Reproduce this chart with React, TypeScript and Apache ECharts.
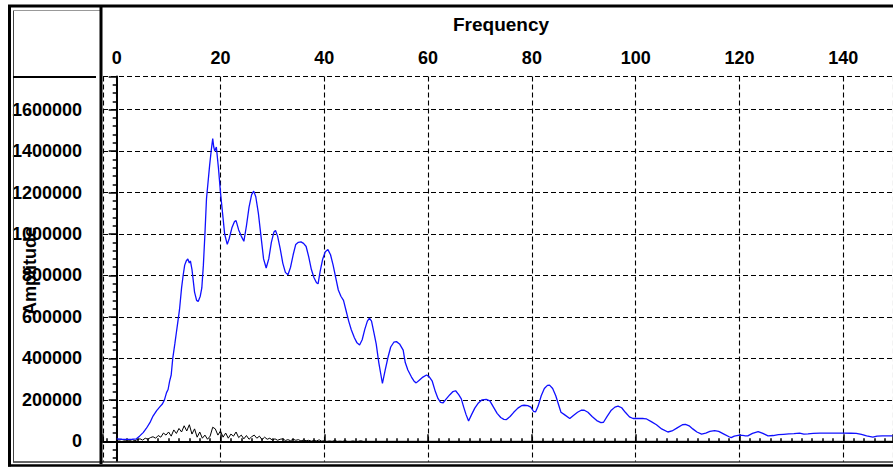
import React, { useEffect, useRef } from "react";
import * as echarts from "echarts";

// Spectrum trace (blue): frequency and amplitude
const blueFreq = [
  0, 1, 2, 3, 3.8, 4.4, 5.1, 5.7, 6.4, 7.0, 7.7, 8.3, 8.8, 9.2, 9.6, 9.9, 10.2, 10.5, 10.8, 11.2,
  11.5, 11.8, 12.1, 12.5, 12.8, 13.1, 13.4, 13.7, 14.0, 14.2, 14.5, 15.0, 15.4, 15.7, 16.1, 16.4, 16.7, 17.0, 17.3, 17.6,
  17.9, 18.2, 18.5, 18.7, 18.9, 19.2, 19.6, 20.0, 20.4, 20.8, 21.3, 21.7, 22.2, 22.7, 23.0, 23.5, 24.0, 24.5, 25.0, 25.5,
  26.0, 26.4, 26.8, 27.3, 27.8, 28.3, 28.8, 29.3, 29.8, 30.3, 30.6, 31.0, 31.5, 32.0, 32.5, 33.0, 33.5, 34.0, 34.5, 35.0,
  35.5, 36.0, 36.5, 37.0, 37.5, 38.0, 38.5, 38.8, 39.2, 39.7, 40.2, 40.7, 41.2, 41.7, 42.2, 42.7, 43.2, 43.7, 44.2, 44.7,
  45.2, 45.8, 46.3, 46.8, 47.3, 47.8, 48.3, 48.7, 49.1, 49.6, 50.0, 50.5, 51.2, 51.7, 52.3, 52.8, 53.4, 53.9, 54.5, 55.2,
  55.6, 56.1, 56.8, 57.3, 57.7, 58.3, 59.0, 59.7, 60.2, 60.8, 61.4, 61.9, 62.4, 62.9, 63.5, 64.2, 64.8, 65.3, 65.9, 66.4,
  66.8, 67.3, 67.8, 68.4, 69.0, 69.7, 70.4, 71.2, 71.9, 72.6, 73.3, 74.0, 74.6, 75.1, 75.8, 76.5, 77.3, 78.0, 78.5, 79.2,
  79.8, 80.3, 80.7, 81.2, 81.8, 82.4, 83.0, 83.4, 84.0, 84.6, 85.1, 85.6, 86.2, 87.3, 88.0, 88.8, 89.5, 90.1, 90.8, 91.6,
  92.5, 93.3, 93.8, 94.5, 95.3, 96.0, 96.6, 97.3, 98.0, 98.8, 99.5, 100.5, 101.5, 102.1, 103.0, 104.0, 105.0, 106.2, 107.0, 108.0,
  109.0, 109.6, 110.3, 111.0, 111.8, 112.7, 113.5, 114.3, 115.2, 116.0, 117.0, 118.0, 118.4, 119.0, 120.0, 121.0, 121.6, 122.5, 123.6, 124.5,
  125.5, 126.5, 127.5, 128.5, 129.5, 130.5, 131.6, 132.4, 133.2, 134.2, 135.5, 137.0, 138.5, 140.0, 141.5, 142.5, 143.5, 144.5, 145.7, 146.5,
  147.5, 149.5,
];
const blueAmp = [
  12000, 10000, 9000, 10000, 12000, 25000, 42000, 62000, 90000, 122000, 148000, 166000, 180000, 200000, 235000, 250000, 290000, 320000, 400000, 470000,
  525000, 580000, 635000, 740000, 800000, 850000, 870000, 880000, 860000, 870000, 830000, 720000, 680000, 675000, 700000, 740000, 850000, 1000000, 1170000, 1250000,
  1330000, 1400000, 1460000, 1420000, 1400000, 1420000, 1320000, 1200000, 1100000, 1000000, 950000, 980000, 1030000, 1060000, 1065000, 1020000, 990000, 965000, 1040000, 1130000,
  1190000, 1207000, 1180000, 1100000, 990000, 880000, 836000, 880000, 960000, 1010000, 1017000, 990000, 930000, 860000, 815000, 804000, 840000, 900000, 950000, 960000,
  962000, 955000, 940000, 890000, 830000, 790000, 765000, 760000, 820000, 880000, 915000, 925000, 900000, 850000, 790000, 730000, 700000, 680000, 630000, 580000,
  538000, 500000, 475000, 465000, 490000, 540000, 580000, 594000, 580000, 520000, 470000, 380000, 279000, 340000, 408000, 455000, 478000, 481000, 470000, 440000,
  380000, 344000, 310000, 290000, 282000, 295000, 310000, 320000, 312000, 290000, 240000, 207000, 188000, 186000, 205000, 225000, 240000, 244000, 225000, 205000,
  170000, 130000, 98000, 130000, 160000, 185000, 200000, 202000, 195000, 165000, 135000, 115000, 106000, 105000, 120000, 140000, 160000, 172000, 174000, 172000,
  165000, 145000, 142000, 170000, 220000, 255000, 270000, 271000, 255000, 220000, 180000, 140000, 130000, 110000, 125000, 140000, 150000, 150000, 140000, 120000,
  100000, 90000, 92000, 120000, 150000, 165000, 170000, 162000, 140000, 118000, 110000, 110000, 110000, 108000, 95000, 80000, 60000, 45000, 50000, 65000,
  80000, 82000, 75000, 60000, 45000, 35000, 40000, 48000, 52000, 48000, 35000, 22000, 18000, 25000, 30000, 27000, 26000, 38000, 47000, 38000,
  26000, 28000, 32000, 34000, 36000, 37000, 40000, 35000, 36000, 38000, 40000, 40000, 40000, 40000, 39000, 38000, 33000, 26000, 20000, 25000,
  26000, 26000,
];

// Noise floor trace (black): frequency and amplitude
const blackFreq = [
  0, 0.5, 1, 1.5, 2, 2.5, 3, 3.5, 4, 4.5, 5, 5.5, 6, 6.5, 7, 7.5, 8, 8.5, 9, 9.5,
  10, 10.5, 11, 11.5, 12, 12.5, 13, 13.5, 14, 14.5, 15, 15.5, 16, 16.5, 17, 17.5, 18, 18.5, 19, 19.5,
  20, 20.5, 21, 21.5, 22, 22.5, 23, 23.5, 24, 24.5, 25, 25.5, 26, 26.5, 27, 27.5, 28, 28.5, 29, 29.5,
  30, 30.5, 31, 31.5, 32, 32.5, 33, 33.5, 34, 34.5, 35, 35.5, 36, 36.5, 37, 37.5, 38, 38.5, 39, 39.5,
  40, 40.5, 41, 41.5, 42, 42.5, 43, 43.5, 44, 44.5, 45, 45.5, 46, 46.5, 47, 47.5, 48, 150,
];
const blackAmp = [
  8000, 6000, 9000, 5000, 7000, 4000, 8000, 3000, 9000, 12000, 6000, 15000, 10000, 18000, 22000, 15000, 28000, 20000, 40000, 30000,
  45000, 25000, 55000, 38000, 62000, 45000, 75000, 50000, 80000, 35000, 60000, 20000, 45000, 15000, 30000, 10000, 25000, 68000, 60000, 30000,
  50000, 20000, 40000, 15000, 35000, 25000, 45000, 18000, 30000, 12000, 28000, 10000, 22000, 30000, 15000, 25000, 8000, 20000, 10000, 15000,
  6000, 12000, 5000, 10000, 12000, 4000, 8000, 3000, 10000, 5000, 8000, 2000, 6000, 3000, 5000, 1000, 4000, 2000, 7000, 1000,
  3000, 0, 2000, 0, 4000, 0, 1000, 0, 3000, 0, 0, 2000, 0, 0, 3000, 0, 0, 0,
];

const FONT = "'Liberation Sans', Arial, sans-serif";

export default function App() {
  const ref = useRef<HTMLDivElement>(null);

  useEffect(() => {
    const chart = echarts.init(ref.current!, null, { renderer: "svg" });
    const blueData = blueFreq.map((f, i) => [f, blueAmp[i]]);
    const blackData = blackFreq.map((f, i) => [f, blackAmp[i]]);
    const dash = { type: [5, 3] as number[], color: "#000", width: 1.1 };

    chart.setOption({
      animation: false,
      backgroundColor: "#fff",
      grid: {
        left: 103,
        right: 0,
        top: 76.5,
        bottom: 1.8,
        containLabel: false,
        outerBoundsMode: "none",
      },
      xAxis: {
        type: "value",
        position: "top",
        min: -2.64,
        max: 149.58,
        minInterval: 20,
        maxInterval: 20,
        axisLine: { show: true, lineStyle: { color: "#000", width: 2 } },
        axisTick: { show: true, inside: false, length: 7, lineStyle: { color: "#000", width: 1.5 } },
        minorTick: { show: true, splitNumber: 10, length: 3, lineStyle: { color: "#000", width: 1.5 } },
        splitLine: { show: true, lineStyle: dash },
        axisLabel: {
          margin: 10,
          showMinLabel: false,
          showMaxLabel: false,
          formatter: (v: number) => String(v),
          fontFamily: FONT,
          fontSize: 18,
          fontWeight: "bold",
          color: "#000",
        },
      },
      yAxis: {
        type: "value",
        position: "left",
        offset: 8,
        min: -120000,
        max: 1760000,
        minInterval: 200000,
        maxInterval: 200000,
        axisLine: { show: true, lineStyle: { color: "#000", width: 2 } },
        axisTick: { show: true, inside: false, length: 8, lineStyle: { color: "#000", width: 1.5 } },
        minorTick: { show: true, splitNumber: 5, length: 4, lineStyle: { color: "#000", width: 1.5 } },
        splitLine: { show: true, lineStyle: dash },
        axisLabel: {
          margin: 13,
          showMinLabel: false,
          showMaxLabel: false,
          formatter: (v: number) => String(v),
          fontFamily: FONT,
          fontSize: 18,
          fontWeight: "bold",
          color: "#000",
        },
      },
      series: [
        {
          type: "line",
          data: blackData,
          showSymbol: false,
          symbol: "none",
          lineStyle: { color: "#000", width: 1 },
          z: 3,
        },
        {
          type: "line",
          data: blueData,
          showSymbol: false,
          symbol: "none",
          lineStyle: { color: "#1010ff", width: 1.3 },
          z: 4,
        },
      ],
      graphic: [
        { type: "rect", z: 100, shape: { x: 13, y: 462, width: 880, height: 6 }, style: { fill: "#fff" } },
        { type: "line", z: 101, shape: { x1: 13, y1: 462, x2: 893, y2: 462 }, style: { stroke: "#333", lineWidth: 1.5 } },
        { type: "line", z: 101, shape: { x1: 8, y1: 465.5, x2: 893, y2: 465.5 }, style: { stroke: "#000", lineWidth: 2.5 } },
        { type: "line", z: 101, shape: { x1: 8, y1: 6, x2: 893, y2: 6 }, style: { stroke: "#000", lineWidth: 3 } },
        { type: "line", z: 101, shape: { x1: 9.5, y1: 5, x2: 9.5, y2: 466.5 }, style: { stroke: "#000", lineWidth: 3 } },
        { type: "line", z: 101, shape: { x1: 13.5, y1: 10, x2: 13.5, y2: 462 }, style: { stroke: "#444", lineWidth: 1 } },
        { type: "line", z: 101, shape: { x1: 13, y1: 10.5, x2: 100, y2: 10.5 }, style: { stroke: "#999", lineWidth: 1 } },
        { type: "line", z: 101, shape: { x1: 13, y1: 77, x2: 96, y2: 77 }, style: { stroke: "#000", lineWidth: 2 } },
        { type: "line", z: 101, shape: { x1: 101, y1: 7, x2: 101, y2: 464 }, style: { stroke: "#000", lineWidth: 3 } },
        {
          type: "text",
          z: 102,
          x: 501,
          y: 24,
          style: {
            text: "Frequency",
            align: "center",
            verticalAlign: "middle",
            fontFamily: FONT,
            fontSize: 19,
            fontWeight: "bold",
            fill: "#000",
          },
        },
        {
          type: "text",
          z: 102,
          x: 30,
          y: 271,
          rotation: Math.PI / 2,
          style: {
            text: "Amplitude",
            align: "center",
            verticalAlign: "middle",
            fontFamily: FONT,
            fontSize: 18,
            fontWeight: "bold",
            fill: "#000",
          },
        },
      ],
    });

    return () => chart.dispose();
  }, []);

  return (
    <div
      ref={ref}
      style={{ position: "absolute", left: 0, top: 0, width: 893, height: 468 }}
    />
  );
}
